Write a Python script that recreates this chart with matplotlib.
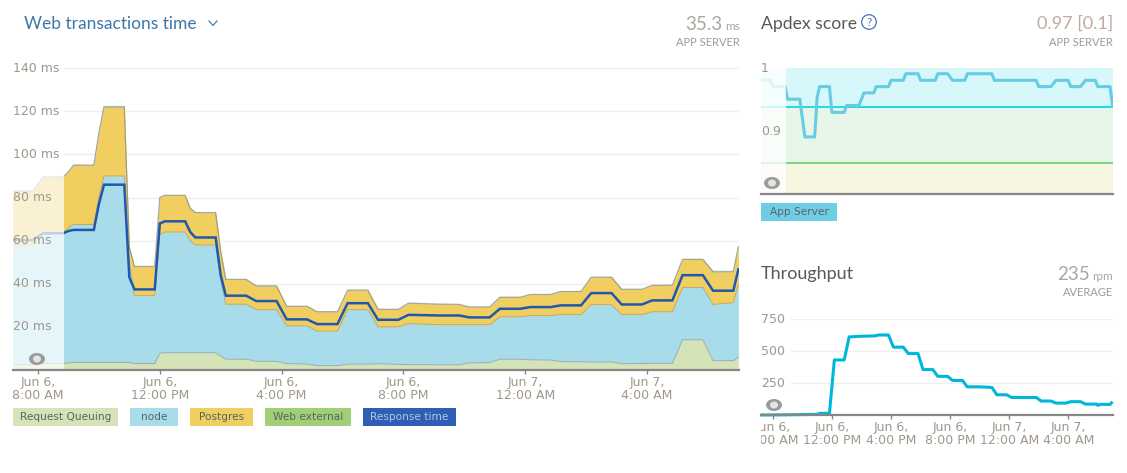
import numpy as np
import matplotlib
matplotlib.use("Agg")
import matplotlib.pyplot as plt
from matplotlib.patches import Rectangle, Ellipse, Circle
from matplotlib.transforms import Bbox, ScaledTranslation

W, H = 1127, 473
TITLE_FONT = "Lato"
TICK_C = "#a0978c"

# ---- data: x is in ten-minute steps after Jun 6, 8:00 AM ----
steps = [-5,-1,1,5,6,7,11,12,13,17,18,19,23,24,25,29,30,31,35,36,37,41,43,47,49,53,55,59,61,65,
         67,71,73,79,83,85,89,91,95,97,101,103,107,109,113,115,119,121,125,127,131,133,137,138]
request_queuing_top = [2.5,2.5,3,3,3.2,3.5,3.5,3.5,3.5,3.5,3.5,3,3,7.8,8,8,8,8,8,6.5,5,5,4,4,3,2.7,2,2,2.7,2.7,
                       2.9,2.6,2.5,2.4,2.4,3.3,3.4,5,5,4.7,4.6,3.9,3.8,3.7,3.7,2.9,3,3.1,3.1,14,14,4.3,4.3,6]
node_top = [58,58,63,63.5,66,67.5,67.5,80,90,90,50,34.5,34.5,63,64,64,60,58,58,42,30.5,30.5,28,28,20.5,20.5,18,18,28,28,
            20,20,21.5,21,21,21,21,24.7,24.7,25.2,25.2,25.7,25.7,30.3,30.3,25.7,25.7,27,27,38.3,38.3,30.4,31.2,39.7]
postgres_top = [83,83,89.5,89.5,92,95,95,110,122,122,57,48,48,80,81,81,75,73,73,55,42,42,39,39,29.5,29.5,27,27,37,37,
                28.1,28.1,31,30.5,30.4,29.2,29.2,33.7,33.7,35,35,36.4,36.4,43,43,37.4,37.4,39.2,39.3,51.3,51.3,45.5,45.6,57.2]
web_external_top = [83.1,83.1,89.6,89.6,92.1,95.1,95.1,110.1,122.3,122.3,57.1,48.1,48.1,80.1,81.1,81.1,75.1,73.1,73.1,55.1,42.1,42.1,39.1,39.1,29.6,29.6,27.1,27.1,37.1,37.1,
                    28.2,28.2,31.1,30.6,30.5,29.3,29.3,33.8,33.8,35.1,35.1,36.5,36.5,43.1,43.1,37.5,37.5,39.3,39.4,51.4,51.4,45.8,45.8,57.3]
response_time = [60.3,60.3,63.4,63.5,64.5,65,65,77,86,86,43,37.4,37.4,68,69,69,64,61.5,61.5,44,34.5,34.5,32,32,23.5,23.5,21.3,21.3,31,31,
                 23.3,23.3,25.6,25.3,25.3,24.4,24.4,28.4,28.4,29.2,29.2,30,30,35.7,35.7,30.4,30.4,32.3,32.3,44,44,36.8,36.8,46.7]

apdex_steps = [-5,-1,0,5,6,11,13,17,18,19,23,24,29,30,35,37,41,42,47,48,53,54,59,60,66,67,71,73,78,79,89,90,107,108,113,115,120,121,125,127,131,132,137,138]
apdex_score = [.9825,.9825,.972,.972,.952,.952,.892,.892,.955,.972,.972,.931,.931,.942,.942,.962,.962,.972,.972,.982,.982,.9925,.9925,.982,.982,.9925,.9925,.982,.982,.9925,.9925,.982,.982,.972,.972,.982,.982,.972,.972,.982,.982,.972,.972,.941]

thr_steps = [-5,7,18,19,23,25,29,31,35.5,41.5,43,47,49,53,55,59,61,65,67,71,73,77,79,84,89,91,95,97,107,109,113,115,119,121,125,127,131.5,132,133,137,138]
thr_rpm = [0,2,5,13,13,430,430,610,615,618,625,625,530,530,480,480,355,355,302,302,270,270,220,220,215,158,158,137,137,109,109,93,93,104,104,85,85,75,83,83,104]

main_ticks = [0, 4, 8, 12, 16, 20]
main_tick_labels = ["Jun 6,\n8:00 AM", "Jun 6,\n12:00 PM", "Jun 6,\n4:00 PM", "Jun 6,\n8:00 PM", "Jun 7,\n12:00 AM", "Jun 7,\n4:00 AM"]
main_y = [20, 40, 60, 80, 100, 120, 140]
main_y_labels = ["20 ms", "40 ms", "60 ms", "80 ms", "100 ms", "120 ms", "140 ms"]
thr_y = [250, 500, 750]
thr_y_labels = ["250", "500", "750"]
apdex_y = [0.9, 1.0]
apdex_y_labels = ["0.9", "1"]

plt.rcParams["font.family"] = ["DejaVu Sans"]
fig = plt.figure(figsize=(W / 100, H / 100), dpi=100, facecolor="white")

def px_axes(x0, y_top, x1, y_bottom):
    return fig.add_axes([x0 / W, 1 - y_bottom / H, (x1 - x0) / W, (y_bottom - y_top) / H], facecolor="none")

def style(ax, xlim, ylim, yt, ytl, grid_from=None, lift=1.5):
    ax.set_xlim(*xlim); ax.set_ylim(*ylim)
    for s in ("top", "left", "right"):
        ax.spines[s].set_visible(False)
    ax.spines["bottom"].set_color("#868686"); ax.spines["bottom"].set_linewidth(1.6)
    ax.set_axisbelow(False)
    ax.set_yticks(yt); ax.set_yticklabels(ytl, ha="left", color=TICK_C, fontsize=9)
    ax.tick_params(axis="y", length=0, pad=0)
    up = ScaledTranslation(0, lift / 100, fig.dpi_scale_trans)
    for lab in ax.get_yticklabels():
        lab.set_transform(lab.get_transform() + up)
    if grid_from is not None:
        ax.hlines(yt, grid_from, xlim[1], color="#efefef", lw=1, zorder=0.5)

def xt(ax, ticks, labels):
    ax.set_xticks(ticks); ax.set_xticklabels(labels, color=TICK_C, fontsize=9, linespacing=1.08)
    ax.tick_params(axis="x", length=3, width=1, color="#868686", pad=1)

# ---- main ----
hrs = np.array(steps) / 6
ax = px_axes(13, 68.3, 739, 370)
style(ax, (-0.821, 23.02), (0, 140), main_y, main_y_labels, grid_from=0.82)
xt(ax, main_ticks, main_tick_labels)
ax.fill_between(hrs, 0, request_queuing_top, color="#d5e3b8", lw=0, zorder=1.1)
ax.fill_between(hrs, request_queuing_top, node_top, color="#a9dcea", lw=0, zorder=1.1)
ax.fill_between(hrs, node_top, postgres_top, color="#f0ce60", lw=0, zorder=1.1)
ax.fill_between(hrs, postgres_top, web_external_top, color="#a0cf75", lw=0, zorder=1.1)
for top in (request_queuing_top, node_top, postgres_top, web_external_top):
    ax.plot(hrs, top, color="#8a8a78", alpha=0.5, lw=0.8, zorder=1.2)
ax.plot(hrs, response_time, color="#2158ad", lw=1.8, zorder=1.5, solid_joinstyle="miter")
ax.axvspan(-0.821, 0.85, color="white", alpha=0.72, lw=0, zorder=1.8)

# ---- apdex ----
ax2 = px_axes(761, 68, 1113, 193.5)
ylim2 = (0.802, 1.0016)
style(ax2, (-0.8, 23.03), ylim2, apdex_y, apdex_y_labels, lift=2)
ax2.set_xticks([])
ax2.axhspan(0.94, ylim2[1], color="#d6f8fb", lw=0, zorder=0.4)
ax2.axhspan(0.85, 0.94, color="#e7f6e8", lw=0, zorder=0.4)
ax2.axhspan(ylim2[0], 0.85, color="#f6f5e0", lw=0, zorder=0.4)
ax2.axhline(0.94, color="#10d8e2", lw=1.3, zorder=0.6)
ax2.axhline(0.85, color="#6fd276", lw=1.3, zorder=0.6)
ax2.plot(np.array(apdex_steps) / 6, apdex_score, color="#67cce3", lw=2.2, zorder=1.5, clip_on=True)
ax2.axvspan(-0.8, 0.9, color="white", alpha=0.78, lw=0, zorder=1.8)

# ---- throughput ----
ax3 = px_axes(761, 319, 1113, 415)
style(ax3, (-0.8, 23.03), (0, 750), thr_y, thr_y_labels, grid_from=1.15, lift=1)
xt(ax3, main_ticks, main_tick_labels)
ax3.plot(np.array(thr_steps) / 6, thr_rpm, color="#00b7da", lw=2.2, zorder=1.5, clip_on=False, solid_capstyle="butt")
clip = Bbox([[761, 0], [W, H]])
for lab in ax3.get_xticklabels():
    lab.set_clip_on(True); lab.set_clip_box(clip)

# ---- page furniture, in pixel coordinates ----
ui = fig.add_axes([0, 0, 1, 1], facecolor="none", zorder=5)
ui.set_xlim(0, W); ui.set_ylim(H, 0); ui.axis("off")

def t(x, y, s, size, color, ha="left", family=TITLE_FONT, **kw):
    ui.text(x, y, s, fontsize=size, color=color, ha=ha, va="center", family=family, **kw)

t(23.5, 24, "Web transactions time", 12.5, "#3c77a8")
ui.plot([209, 213, 217], [21, 25.5, 21], color="#4a80ac", lw=0.9)
t(722, 24, "35.3", 13.5, "#aca6a0", ha="right")
t(740, 26, "ms", 8.5, "#aca6a0", ha="right")
t(740, 42, "APP SERVER", 8, "#a09a94", ha="right")

t(761, 24, "Apdex score", 12.7, "#5c5856")
ui.add_patch(Circle((869, 22), 7.3, fc="none", ec="#4a70b8", lw=0.9))
t(869, 22, "?", 8.5, "#4a70b8", ha="center")
t(1113, 24, "0.97 [0.1]", 13, "#c0aaa4", ha="right")
t(1113, 42, "APP SERVER", 8, "#a09a94", ha="right")

t(761, 274, "Throughput", 13, "#5c5856")
t(1090, 274, "235", 13.5, "#aca6a0", ha="right")
t(1113, 276, "rpm", 8.5, "#aca6a0", ha="right")
t(1113, 292, "AVERAGE", 8, "#a09a94", ha="right")

def chip(x0, x1, y0, y1, fc, label, tc="#5a6464"):
    ui.add_patch(Rectangle((x0, y0), x1 - x0, y1 - y0, fc=fc, ec="none"))
    ui.text((x0 + x1) / 2, (y0 + y1) / 2, label, fontsize=7.6, color=tc, ha="center", va="center")

chip(13, 118, 408, 426, "#d5e3b8", "Request Queuing")
chip(130, 178, 408, 426, "#a9dcea", "node")
chip(190, 253, 408, 426, "#f0ce60", "Postgres")
chip(265, 351, 408, 426, "#a0cf75", "Web external")
chip(363, 456, 408, 426, "#2f5fb5", "Response time", tc="#b4c4e4")
chip(761, 837, 203, 221, "#6fcde3", "App Server")

for ex, ey in [(37, 359), (772, 183), (774, 405)]:
    ui.add_patch(Ellipse((ex, ey), 16, 12, fc="#9b9b9b", ec="none"))
    ui.add_patch(Ellipse((ex, ey), 8, 7, fc="#e4e4e4", ec="none"))

fig.savefig("out.png", dpi=100, facecolor="white")
